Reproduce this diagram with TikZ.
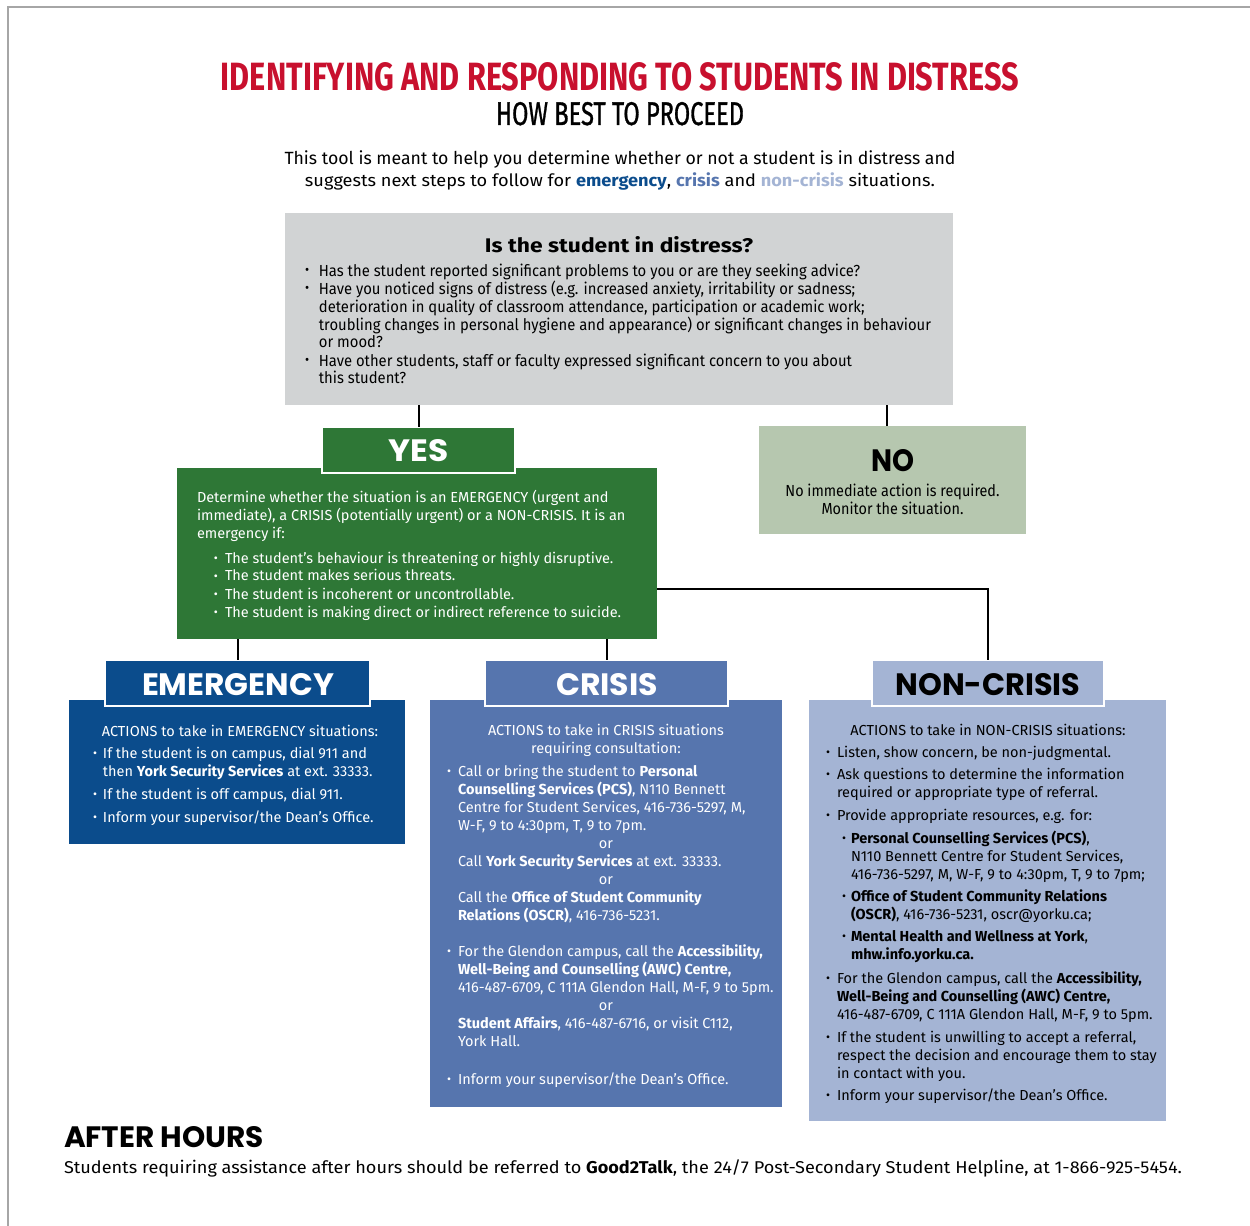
\documentclass[tikz,border=0pt]{standalone}
\usepackage{fontspec}
\usepackage{graphicx}
\usetikzlibrary{fit,calc}
\setmainfont{Fira Sans}
\newfontfamily\subfont[FakeBold=1.2]{Fira Sans}
\newfontfamily\heavyfont{Poppins}

\definecolor{titlered}{HTML}{C8102E}
\definecolor{qgray}{HTML}{D1D3D4}
\definecolor{yesgreen}{HTML}{2E7736}
\definecolor{nosage}{HTML}{B6C7AF}
\definecolor{emblue}{HTML}{0B4C8C}
\definecolor{crblue}{HTML}{5675AE}
\definecolor{ncblue}{HTML}{A4B4D4}
\definecolor{framegray}{HTML}{A6A6A6}

\newcommand\bodysize{\fontsize{7.25}{9}\selectfont}
\newcommand\condsize{\fontsize{8}{9}\selectfont}
\newcommand\dotmark{\raisebox{0.12ex}{\scalebox{0.85}{•}}}
\newcommand\bl[1]{\makebox[#1][l]{\dotmark}}
% narrow setting for the condensed blocks
\newcommand\narrow[2]{\scalebox{#1}[1]{#2}}

\tikzset{
  panel/.style={inner sep=0pt, outer sep=0pt, draw=none},
  tab/.style={inner sep=0pt, outer sep=0pt, draw=white, line width=1pt},
  txt/.style={inner sep=0pt, outer sep=0pt},
  link/.style={draw=black, line width=1pt},
}

\begin{document}
\begin{tikzpicture}[x=0.5pt, y=-0.5pt]
\useasboundingbox (0,0) rectangle (1250,1226);

% page frame
\draw[framegray, line width=1.25pt] (8,1226) -- (8,7) -- (1250,7);

% headings
\node[txt, anchor=base, text=titlered] (title) at (620,90)
  {\resizebox{399pt}{14pt}{\bfseries IDENTIFYING AND RESPONDING TO STUDENTS IN DISTRESS}};
\node[txt, anchor=base] (subtitle) at (620,125)
  {\resizebox{124pt}{11.5pt}{\subfont HOW BEST TO PROCEED}};
\node[txt, anchor=base] (intro1) at (620,164)
  {\resizebox{335.5pt}{6.9pt}{This tool is meant to help you determine whether or not a student is in distress and}};
\node[txt, anchor=base] (intro2) at (620,186)
  {\resizebox{315pt}{6.9pt}{suggests next steps to follow for \textcolor{emblue}{\bfseries emergency}, \textcolor{crblue}{\bfseries crisis} and \textcolor{ncblue}{\bfseries non-crisis} situations.}};

% question panel
\node[panel, fill=qgray, fit={(285,213) (953,405)}] (question) {};
\node[txt, anchor=base] (qhead) at (619,252)
  {\resizebox{134pt}{8pt}{\bfseries Is the student in distress?}};
\node[txt, anchor=base west] (qtext) at (305,276) {\narrow{0.926}{\parbox[t]{400pt}{\condsize\raggedright
\bl{7.5pt}Has the student reported significant problems to you or are they seeking advice?\\
\bl{7.5pt}Have you noticed signs of distress (e.g. increased anxiety, irritability or sadness;\\
\hspace*{7.5pt}deterioration in quality of classroom attendance, participation or academic work;\\
\hspace*{7.5pt}troubling changes in personal hygiene and appearance) or significant changes in behaviour\\
\hspace*{7.5pt}or mood?\\
\bl{7.5pt}Have other students, staff or faculty expressed significant concern to you about\\
\hspace*{7.5pt}this student?}}};

% YES branch
\node[panel, fill=yesgreen, fit={(177,468) (657,639)}] (yesbox) {};
\node[tab, fill=yesgreen, fit={(322,427) (515,473)}] (yestab) {};
\node[txt, text=white] (yeslabel) at (418.5,451)
  {\resizebox{30pt}{11pt}{\heavyfont\bfseries YES}};
\node[txt, anchor=base west, text=white] (yestext) at (197,502) {\parbox[t]{300pt}{\bodysize\raggedright
Determine whether the situation is an EMERGENCY (urgent and\\
immediate), a CRISIS (potentially urgent) or a NON-CRISIS. It is an\\
emergency if:\\[3.5pt]
\hspace*{8.5pt}\bl{5.5pt}The student’s behaviour is threatening or highly disruptive.\\
\hspace*{8.5pt}\bl{5.5pt}The student makes serious threats.\\
\hspace*{8.5pt}\bl{5.5pt}The student is incoherent or uncontrollable.\\
\hspace*{8.5pt}\bl{5.5pt}The student is making direct or indirect reference to suicide.}};

% NO branch
\node[panel, fill=nosage, fit={(759,426) (1026,534)}] (nobox) {};
\node[txt] (nolabel) at (892.5,461)
  {\resizebox{21.5pt}{11pt}{\heavyfont\bfseries NO}};
\node[txt, anchor=base] (notext) at (892.5,496) {\narrow{0.9}{\parbox[t]{200pt}{\centering\condsize
No immediate action is required.\\
Monitor the situation.}}};

% EMERGENCY
\node[panel, fill=emblue, fit={(69,700) (405,844)}] (embox) {};
\node[tab, fill=emblue, fit={(105,660) (370,706)}] (emtab) {};
\node[txt, text=white] (emlabel) at (238,685)
  {\resizebox{96pt}{11pt}{\heavyfont\bfseries EMERGENCY}};
\node[txt, anchor=base, text=white] (emhead) at (240,736)
  {\bodysize ACTIONS to take in EMERGENCY situations:};
\node[txt, anchor=base west, text=white] (emtext) at (93,758) {\parbox[t]{200pt}{\bodysize\raggedright
\bl{5pt}If the student is on campus, dial 911 and\\
\hspace*{5pt}then \textbf{York Security Services} at ext. 33333.\\[2.5pt]
\bl{5pt}If the student is off campus, dial 911.\\[2.5pt]
\bl{5pt}Inform your supervisor/the Dean’s Office.}};

% CRISIS
\node[panel, fill=crblue, fit={(430,700) (782,1107)}] (crbox) {};
\node[tab, fill=crblue, fit={(485,660) (728,706)}] (crtab) {};
\node[txt, text=white] (crlabel) at (607,685)
  {\resizebox{51pt}{11pt}{\heavyfont\bfseries CRISIS}};
\node[txt, anchor=base, text=white] (crhead) at (606,735) {\parbox[t]{200pt}{\centering\bodysize
ACTIONS to take in CRISIS situations\\
requiring consultation:}};
\node[txt, anchor=base west, text=white] (crtext) at (447,776) {\parbox[t]{220pt}{\bodysize\raggedright
\bl{5.5pt}Call or bring the student to \textbf{Personal}\\
\hspace*{5.5pt}\textbf{Counselling Services (PCS)}, N110 Bennett\\
\hspace*{5.5pt}Centre for Student Services, 416-736-5297, M,\\
\hspace*{5.5pt}W-F, 9 to 4:30pm, T, 9 to 7pm.\\
\hspace*{5.5pt}\makebox[148pt]{or}\\
\hspace*{5.5pt}Call \textbf{York Security Services} at ext. 33333.\\
\hspace*{5.5pt}\makebox[148pt]{or}\\
\hspace*{5.5pt}Call the \textbf{Office of Student Community}\\
\hspace*{5.5pt}\textbf{Relations (OSCR)}, 416-736-5231.\\[9pt]
\bl{5.5pt}For the Glendon campus, call the \textbf{Accessibility,}\\
\hspace*{5.5pt}\textbf{Well-Being and Counselling (AWC) Centre,}\\
\hspace*{5.5pt}416-487-6709, C 111A Glendon Hall, M-F, 9 to 5pm.\\
\hspace*{5.5pt}\makebox[148pt]{or}\\
\hspace*{5.5pt}\textbf{Student Affairs}, 416-487-6716, or visit C112,\\
\hspace*{5.5pt}York Hall.\\[10pt]
\bl{5.5pt}Inform your supervisor/the Dean’s Office.}};

% NON-CRISIS
\node[panel, fill=ncblue, fit={(809,700) (1166,1121)}] (ncbox) {};
\node[tab, fill=ncblue, fit={(872,660) (1104,706)}] (nctab) {};
\node[txt] (nclabel) at (988,685)
  {\resizebox{92.5pt}{11pt}{\heavyfont\bfseries NON-CRISIS}};
\node[txt, anchor=base] (nchead) at (988,735)
  {\bodysize ACTIONS to take in NON-CRISIS situations:};
\node[txt, anchor=base west] (nctext) at (826,757) {\parbox[t]{220pt}{\bodysize\raggedright
\bl{5.5pt}Listen, show concern, be non-judgmental.\\[2pt]
\bl{5.5pt}Ask questions to determine the information\\
\hspace*{5.5pt}required or appropriate type of referral.\\[2.5pt]
\bl{5.5pt}Provide appropriate resources, e.g. for:\\[2.5pt]
\hspace*{8pt}\bl{4.5pt}\textbf{Personal Counselling Services (PCS)},\\
\hspace*{12.5pt}N110 Bennett Centre for Student Services,\\
\hspace*{12.5pt}416-736-5297, M, W-F, 9 to 4:30pm, T, 9 to 7pm;\\[2pt]
\hspace*{8pt}\bl{4.5pt}\textbf{Office of Student Community Relations}\\
\hspace*{12.5pt}\textbf{(OSCR)}, 416-736-5231, oscr@yorku.ca;\\[2pt]
\hspace*{8pt}\bl{4.5pt}\textbf{Mental Health and Wellness at York},\\
\hspace*{12.5pt}\textbf{mhw.info.yorku.ca.}\\[3pt]
\bl{5.5pt}For the Glendon campus, call the \textbf{Accessibility,}\\
\hspace*{5.5pt}\textbf{Well-Being and Counselling (AWC) Centre,}\\
\hspace*{5.5pt}416-487-6709, C 111A Glendon Hall, M-F, 9 to 5pm.\\[2.5pt]
\bl{5.5pt}If the student is unwilling to accept a referral,\\
\hspace*{5.5pt}respect the decision and encourage them to stay\\
\hspace*{5.5pt}in contact with you.\\[2pt]
\bl{5.5pt}Inform your supervisor/the Dean’s Office.}};

% connectors
\draw[link] (question.south -| yestab.north) -- (yestab.north);
\coordinate (nojoin) at ([xshift=-2.75pt]nobox.north);
\draw[link] (question.south -| nojoin) -- (nojoin);
\draw[link] (yesbox.south -| emtab.north) -- (emtab.north);
\draw[link] (yesbox.south -| crtab.north) -- (crtab.north);
\coordinate (ncturn) at (nctab.north |- 0,589);
\draw[link] (yesbox.east |- ncturn) -- (ncturn) -- (nctab.north);

% after hours
\node[txt, anchor=base west] (ahhead) at (64,1147)
  {\resizebox{100pt}{10.5pt}{\heavyfont\bfseries AFTER HOURS}};
\node[txt, anchor=base west] (ahtext) at (64,1173)
  {\resizebox{559pt}{6.9pt}{Students requiring assistance after hours should be referred to \textbf{Good2Talk}, the 24/7 Post-Secondary Student Helpline, at 1-866-925-5454.}};
\end{tikzpicture}
\end{document}
